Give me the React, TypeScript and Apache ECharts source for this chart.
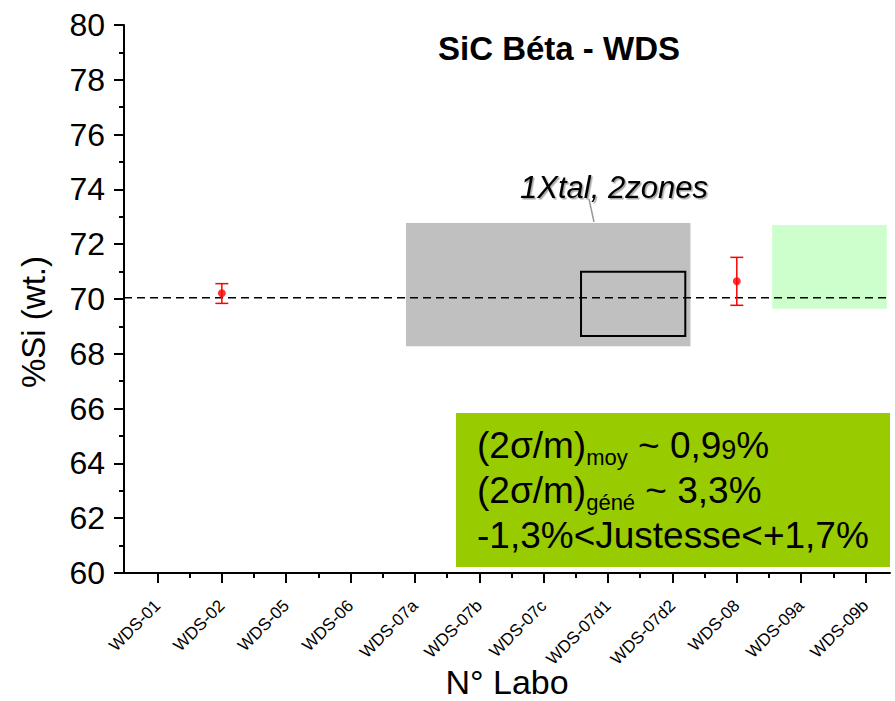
import React, { useEffect, useRef } from "react";
import * as echarts from "echarts";

const categories = ["WDS-01", "WDS-02", "WDS-05", "WDS-06", "WDS-07a", "WDS-07b", "WDS-07c", "WDS-07d1", "WDS-07d2", "WDS-08", "WDS-09a", "WDS-09b"];
const yTicks = { min: 60, max: 80, interval: 2 };
// measured points: [category index, value]
const pointX = [1, 9];
const pointValues = [70.21, 70.65];
const errLow = [69.84, 69.77];
const errHigh = [70.56, 71.52];
const referenceValue = 70.05;
// ranges: [xStart, xEnd, yLow, yHigh] in category index / %Si units
const grayRange = [3.86, 8.28, 68.28, 72.77];
const innerRange = [6.58, 8.2, 68.65, 70.99];
const greenRange = [9.55, 11.33, 69.64, 72.7];

const FONT = "Liberation Sans, Arial, sans-serif";

export default function App() {
  const ref = useRef<HTMLDivElement>(null);
  useEffect(() => {
    if (!ref.current) return;
    const chart = echarts.init(ref.current, undefined, { renderer: "svg" });
    const xMin = -0.52;
    const xMax = 11.38;
    const majorX = categories.map((_, i) => i);
    const minorX = categories.map((_, i) => i + 0.5).filter((v) => v < xMax);
    const area = (r: number[], style: any) => [
      { xAxis: r[0], yAxis: r[2], itemStyle: style },
      { xAxis: r[1], yAxis: r[3] },
    ];
    const gridBox = { left: 124, right: 5, top: 25, bottom: 128, containLabel: false, outerBoundsMode: "none" };
    const option: any = {
      animation: false,
      backgroundColor: "#ffffff",
      grid: [{ ...gridBox }, { ...gridBox }],
      xAxis: [
        {
          type: "value",
          gridIndex: 0,
          min: xMin,
          max: xMax,
          position: "bottom",
          name: "N° Labo",
          nameLocation: "middle",
          nameGap: 92,
          nameMoveOverlap: false,
          nameTextStyle: { fontSize: 34, color: "#000", fontFamily: FONT, lineHeight: 34 },
          axisLine: { show: true, onZero: false, lineStyle: { color: "#000", width: 2 } },
          axisTick: { show: true, customValues: majorX, length: 10, lineStyle: { color: "#000", width: 2 } },
          axisLabel: {
            show: true,
            customValues: majorX,
            rotate: 45,
            margin: 30,
            fontSize: 17,
            color: "#000",
            fontFamily: FONT,
            formatter: (v: number) => categories[Math.round(v)] ?? "",
          },
          splitLine: { show: false },
        },
        {
          type: "value",
          gridIndex: 1,
          min: xMin,
          max: xMax,
          position: "bottom",
          axisLine: { show: false, onZero: false },
          axisTick: { show: true, customValues: minorX, length: 5, lineStyle: { color: "#000", width: 2 } },
          axisLabel: { show: false },
          splitLine: { show: false },
        },
      ],
      yAxis: [
        {
          type: "value",
          gridIndex: 0,
          min: yTicks.min,
          max: yTicks.max,
          interval: yTicks.interval,
          axisLine: { show: true, onZero: false, lineStyle: { color: "#000", width: 2 } },
          axisTick: { show: true, length: 10, lineStyle: { color: "#000", width: 2 } },
          minorTick: { show: true, splitNumber: 2, length: 5, lineStyle: { color: "#000", width: 2 } },
          axisLabel: { fontSize: 32, color: "#000", fontFamily: FONT, margin: 19 },
          splitLine: { show: false },
        },
        {
          type: "value",
          gridIndex: 1,
          min: yTicks.min,
          max: yTicks.max,
          show: false,
        },
      ],
      series: [
        {
          type: "line",
          z: 1,
          symbol: "none",
          silent: true,
          data: [[xMin, referenceValue], [xMax, referenceValue]],
          lineStyle: { color: "#000", width: 1.5, type: [8, 5] },
        },
        {
          type: "scatter",
          z: 2,
          silent: true,
          data: [],
          markArea: {
            silent: true,
            data: [
              area(grayRange, { color: "#c0c0c0" }),
              area(greenRange, { color: "#ccffcc" }),
              area(innerRange, { color: "rgba(0,0,0,0)", borderColor: "#000", borderWidth: 2 }),
            ],
          },
        },
        {
          type: "custom",
          z: 3,
          data: pointX.map((x, i) => [x, errLow[i], errHigh[i]]),
          encode: { x: 0, y: [1, 2] },
          renderItem: (params: any, api: any) => {
            const x = api.value(0);
            const lo = api.coord([x, api.value(1)]);
            const hi = api.coord([x, api.value(2)]);
            const hw = 6.5;
            const st = { stroke: "#ff0000", lineWidth: 1.5 };
            return {
              type: "group",
              children: [
                { type: "line", shape: { x1: lo[0], y1: lo[1], x2: hi[0], y2: hi[1] }, style: st },
                { type: "line", shape: { x1: lo[0] - hw, y1: lo[1], x2: lo[0] + hw, y2: lo[1] }, style: st },
                { type: "line", shape: { x1: hi[0] - hw, y1: hi[1], x2: hi[0] + hw, y2: hi[1] }, style: st },
              ],
            };
          },
        },
        {
          type: "scatter",
          z: 4,
          symbol: "circle",
          symbolSize: 8,
          itemStyle: { color: "#ff0000" },
          data: pointX.map((x, i) => [x, pointValues[i]]),
        },
      ],
      graphic: [
        {
          type: "text",
          x: 33,
          y: 322,
          rotation: Math.PI / 2,
          style: { text: "%Si (wt.)", font: `33px ${FONT}`, fill: "#000", align: "center", verticalAlign: "middle" },
        },
        {
          type: "text",
          x: 559,
          y: 48,
          style: { text: "SiC Béta - WDS", font: `bold 33px ${FONT}`, fill: "#000", align: "center", verticalAlign: "middle" },
        },
        {
          type: "line",
          shape: { x1: 589, y1: 199, x2: 594, y2: 222 },
          style: { stroke: "#999", lineWidth: 1.5 },
        },
        {
          type: "text",
          x: 614,
          y: 187,
          style: {
            text: "1Xtal, 2zones",
            font: `italic 31px ${FONT}`,
            fill: "#000",
            align: "center",
            verticalAlign: "middle",
            textShadowColor: "rgba(0,0,0,0.35)",
            textShadowOffsetX: 1.5,
            textShadowOffsetY: 1.5,
            textShadowBlur: 1,
          },
        },
        {
          type: "rect",
          shape: { x: 456, y: 413, width: 434, height: 154 },
          style: { fill: "#99cc00" },
        },
        {
          type: "text",
          x: 477,
          y: 423,
          style: {
            text: "{m|(2σ/m)}{s|moy}{m| ~ 0,9}{d|9}{m|%}\n{m|(2σ/m)}{s|géné}{m| ~ 3,3%}\n{m|-1,3%<Justesse<+1,7%}",
            fill: "#000",
            font: `37px ${FONT}`,
            rich: {
              m: { fontSize: 37, fontFamily: FONT, lineHeight: 45, verticalAlign: "bottom", height: 45 },
              s: { fontSize: 22, fontFamily: FONT, lineHeight: 22, verticalAlign: "bottom", height: 22 },
              d: { fontSize: 27, fontFamily: FONT, lineHeight: 37, verticalAlign: "bottom", height: 37 },
            },
          },
        },
      ],
    };
    chart.setOption(option);
    return () => chart.dispose();
  }, []);
  return <div ref={ref} style={{ position: "absolute", left: 0, top: 0, width: 895, height: 701 }} />;
}
